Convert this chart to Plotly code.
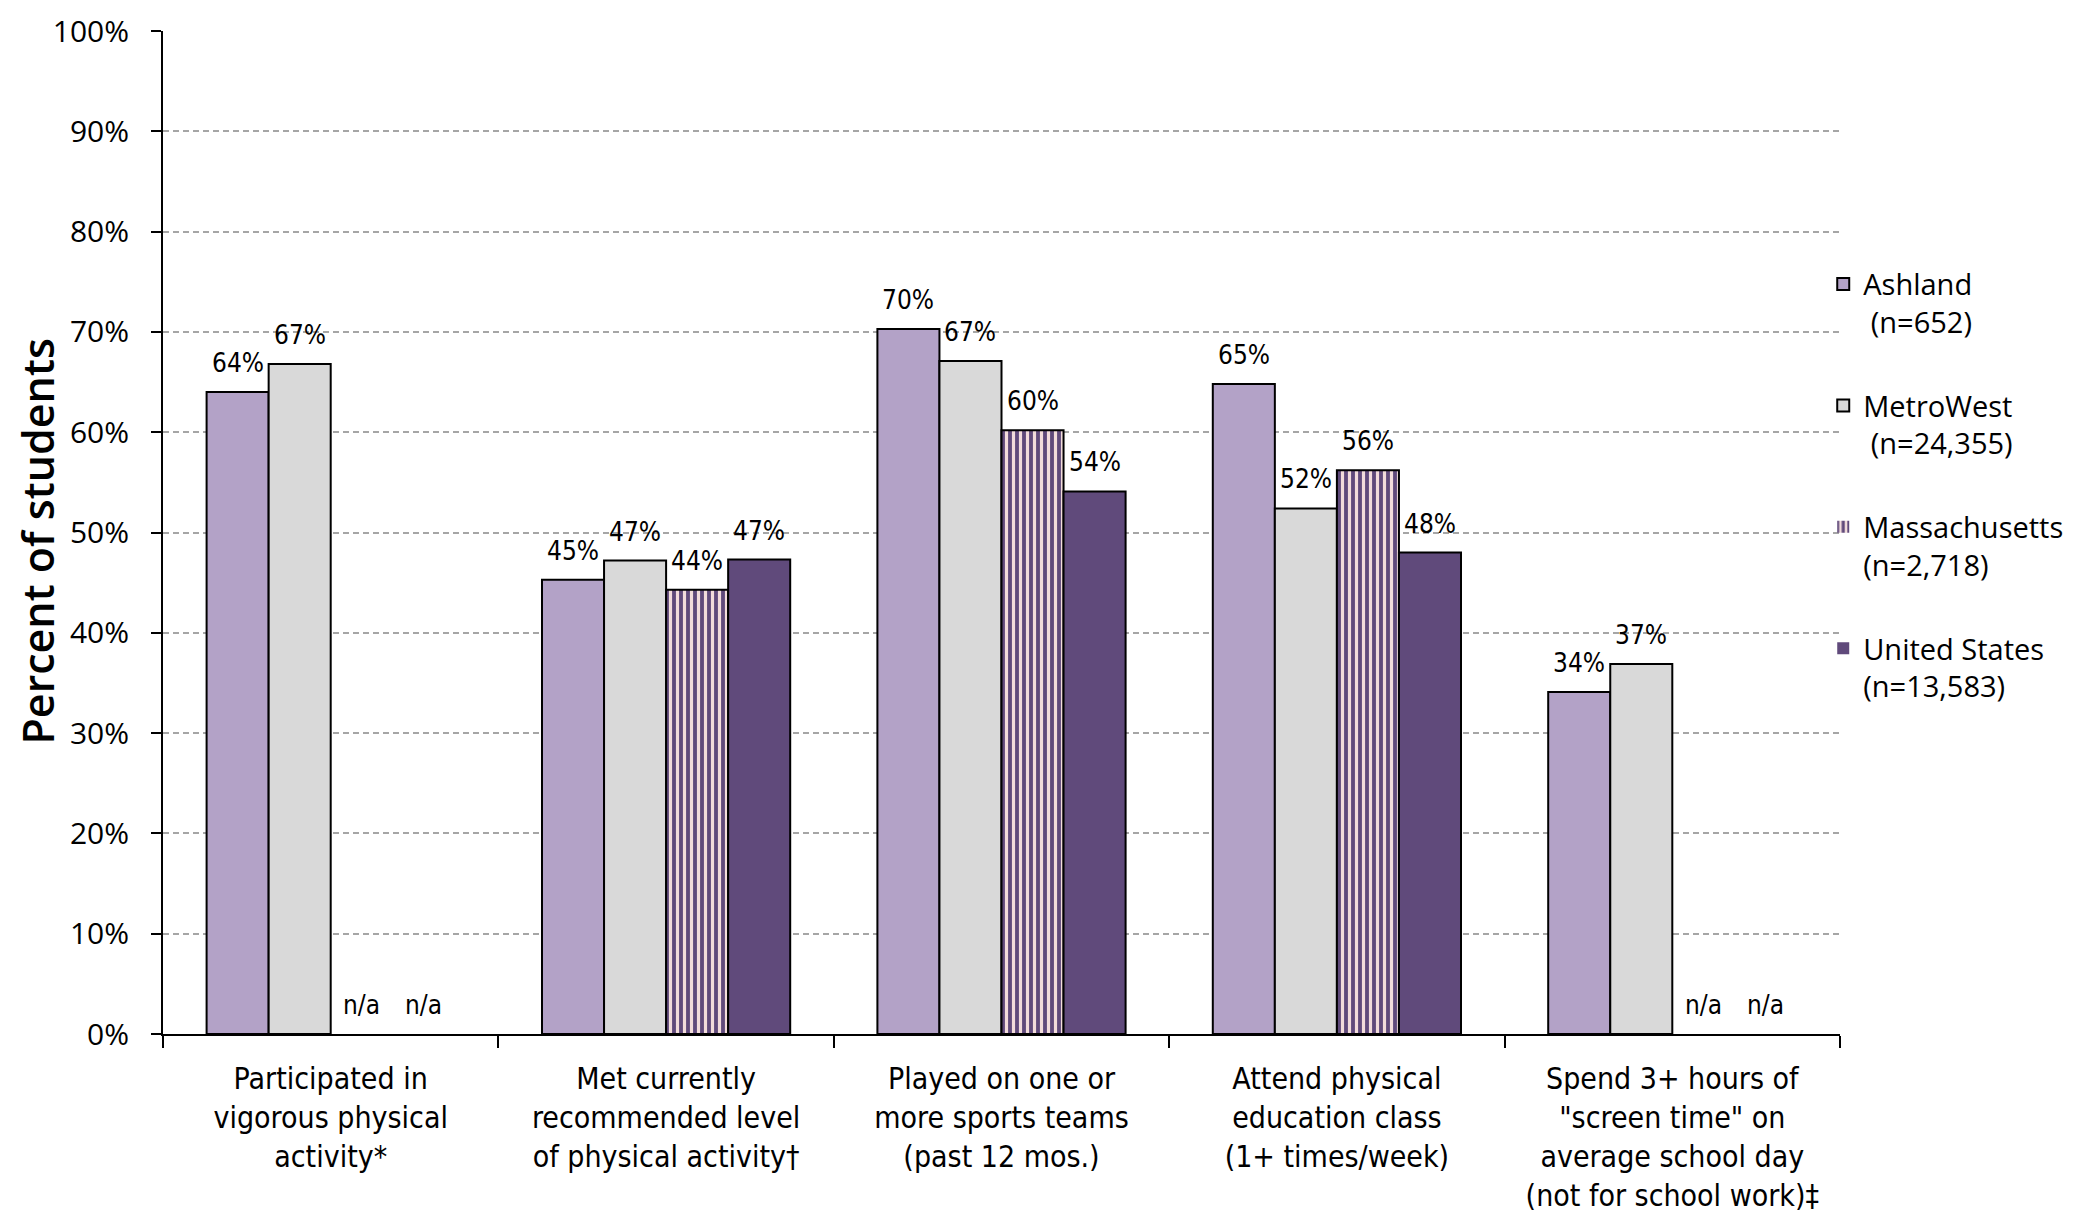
import plotly.graph_objects as go

categories = [
    "Participated in<br>vigorous physical<br>activity*",
    "Met currently<br>recommended level<br>of physical activity\u2020",
    "Played on one or<br>more sports teams<br>(past 12 mos.)",
    "Attend physical<br>education class<br>(1+ times/week)",
    "Spend 3+ hours of<br>\"screen time\" on<br>average school day<br>(not for school work)\u2021",
]
ashland = [64.0, 45.3, 70.3, 64.8, 34.1]
metrowest = [66.8, 47.2, 67.1, 52.4, 36.9]
massachusetts = [None, 44.3, 60.2, 56.2, None]
united_states = [None, 47.3, 54.1, 48.0, None]

series_names = [
    "Ashland<br>\u00a0(n=652)",
    "MetroWest<br>\u00a0(n=24,355)",
    "Massachusetts<br>(n=2,718)",
    "United States<br>(n=13,583)",
]

NARROW = "DejaVu Sans Condensed, Liberation Sans Narrow, Arial Narrow, sans-serif"
TICKFONT = "Open Sans, Noto Sans, sans-serif"

W, H = 2070, 1209
ML, MR, MT, MB = 155, 238, 23, 183
BARGAP = 0.26

fig = go.Figure()

styles = [
    dict(color="#B3A2C7"),
    dict(color="#D9D9D9"),
    dict(color="#604A7B", pattern=dict(shape="|", fgcolor="#F2DCDB", bgcolor="#604A7B", size=7, solidity=0.45, fillmode="replace")),
    dict(color="#604A7B"),
]

all_series = [ashland, metrowest, massachusetts, united_states]
nser = len(all_series)
plot_w = W - ML - MR
bar_px = plot_w / len(categories) * (1 - BARGAP) / nser

for i, (name, vals, st) in enumerate(zip(series_names, all_series, styles)):
    y = [v if v is not None else 0 for v in vals]
    lw = [2 if v is not None else 0 for v in vals]
    marker = dict(line=dict(color="black", width=lw))
    marker.update(st)
    fig.add_trace(go.Bar(
        x=categories, y=y, name=name,
        marker=marker, legendgroup=f"g{i}",
    ))
    xshift = (i - (nser - 1) / 2) * bar_px
    for c, v in zip(categories, vals):
        fig.add_annotation(
            x=c, y=(v if v is not None else 0), xref="x", yref="y",
            text=(f"{round(v):.0f}%" if v is not None else "n/a"),
            showarrow=False, xshift=xshift, yshift=29,
            xanchor="center", yanchor="middle",
            font=dict(family=NARROW, size=26, color="black"),
        )

fig.update_layout(
    width=W, height=H,
    margin=dict(l=ML, r=MR, t=MT, b=MB, autoexpand=False),
    plot_bgcolor="white", paper_bgcolor="white",
    barmode="group", bargap=BARGAP, bargroupgap=0,
    showlegend=True,
    legend=dict(
        x=0.99, xanchor="left", y=0.773, yanchor="top",
        font=dict(family=TICKFONT, size=29, color="black"),
        tracegroupgap=43, valign="top", bgcolor="rgba(0,0,0,0)",
    ),
)

fig.update_yaxes(
    range=[0, 100], dtick=10, ticksuffix="%", automargin=False,
    showline=True, linecolor="black", linewidth=2,
    ticks="outside", ticklen=10, tickwidth=2, tickcolor="black",
    showgrid=True, gridcolor="#A6A6A6", griddash="6px,4px", gridwidth=1.5,
    tickfont=dict(family=TICKFONT, size=30, color="black"),
    zeroline=False, ticklabelstandoff=16,
)
fig.update_xaxes(
    showline=True, linecolor="black", linewidth=2, automargin=False,
    ticks="outside", tickson="boundaries", ticklen=12, tickwidth=2, tickcolor="black",
    tickfont=dict(family=NARROW, size=30, color="black"),
    tickangle=0, ticklabelstandoff=17,
)

fig.add_annotation(
    text="Percent of students", xref="paper", yref="paper",
    x=-0.0751, y=0.491, textangle=-90, showarrow=False,
    font=dict(family=TICKFONT, size=43, color="black", weight=600),
    xanchor="center", yanchor="middle",
)

fig.write_html("out.html")
